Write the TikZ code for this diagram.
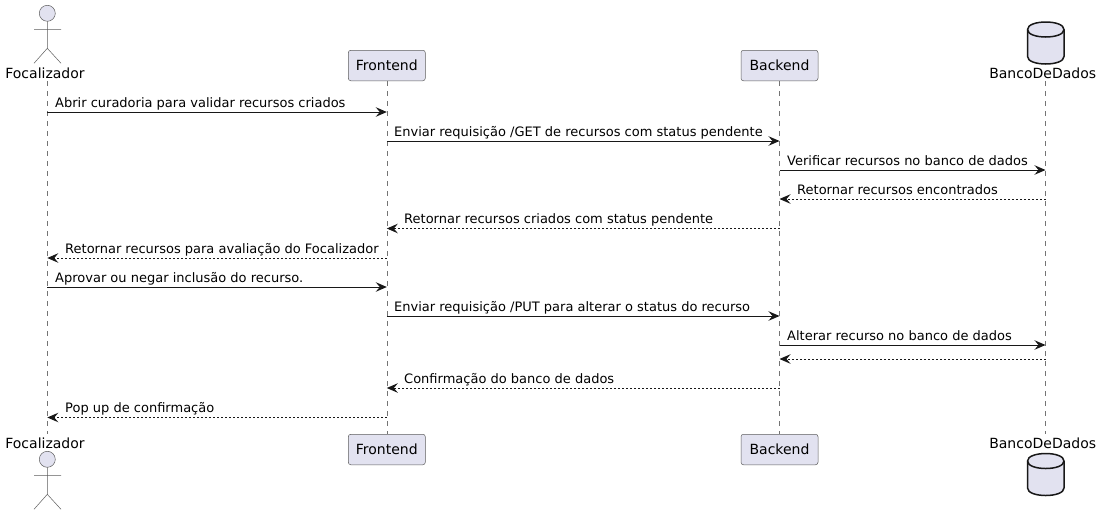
\documentclass[tikz,border=0pt]{standalone}
\usepackage{fontspec}
\setmainfont{DejaVu Sans}
\usetikzlibrary{arrows.meta}
\definecolor{partfill}{HTML}{E2E2F0}
\definecolor{partline}{HTML}{181818}
\newcounter{msgno}
\tikzset{
  x=1pt,y=-1pt,
  lifeline/.style={draw=partline!60,line width=0.5pt,dash pattern=on 5pt off 5pt},
  msgline/.style={draw=partline,line width=1pt,-{Stealth[length=11pt,width=9.5pt,inset=4pt]}},
  retline/.style={msgline,dash pattern=on 2pt off 2pt},
  msgtext/.style={anchor=base west,inner sep=0pt,font=\fontsize{13}{15}\selectfont,text=black},
  parttext/.style={inner sep=0pt,font=\fontsize{14}{16}\selectfont,text=black},
  partbox/.style={draw=partline!70,fill=partfill,line width=0.5pt,rounded corners=2.5pt,minimum width=77pt,minimum height=30.5pt,parttext},
  actorhead/.style={draw=partline!70,fill=partfill,line width=0.5pt},
  actorlimb/.style={draw=partline!70,line width=0.5pt},
  dbbody/.style={draw=partline,fill=partfill,line width=1.5pt},
}
\newcommand{\actorfig}[2]{%
  \node[circle,actorhead,minimum size=16pt,inner sep=0pt] (#1head) at (47.3,#2) {};
  \coordinate (#1neck) at (47.3,#2+8);
  \coordinate (#1hip) at (47.3,#2+35);
  \coordinate (#1arml) at (34,#2+16);
  \coordinate (#1armr) at (61,#2+16);
  \coordinate (#1legl) at (34,#2+50);
  \coordinate (#1legr) at (61,#2+50);
  \draw[actorlimb] (#1neck) -- (#1hip) (#1arml) -- (#1armr) (#1legl) -- (#1hip) -- (#1legr);
}
\newcommand{\dbfig}[1]{%
  \draw[dbbody] (1027.5,#1+10) .. controls (1027.5,#1) and (1064,#1) .. (1064,#1+10)
    -- (1064,#1+37) .. controls (1064,#1+47) and (1027.5,#1+47) .. (1027.5,#1+37) -- cycle;
  \draw[dbbody,fill=none] (1027.5,#1+10) .. controls (1027.5,#1+20) and (1064,#1+20) .. (1064,#1+10);
}
% #1 y, #2 from, #3 to, #4 line style, #5 text x, #6 text
\newcommand{\msgarrow}[6]{%
  \stepcounter{msgno}%
  \coordinate (m\themsgno a) at (#2 |- 0,#1);
  \coordinate (m\themsgno b) at (#3 |- 0,#1);
  \draw[#4] (m\themsgno a) -- (m\themsgno b);
  \node[msgtext] (t\themsgno) at (#5,#1-5) {#6};
}
\begin{document}
\begin{tikzpicture}
\useasboundingbox (0,0) rectangle (1102,515);
\fill[white] (0,0) rectangle (1102,515);

\coordinate (focT) at (47.3,81);  \coordinate (focB) at (47.3,434);
\node[partbox] (froT) at (386.8,65.5) {Frontend};
\node[partbox] (froB) at (386.8,449.5) {Frontend};
\node[partbox] (bacT) at (779.5,65.5) {Backend};
\node[partbox] (bacB) at (779.5,449.5) {Backend};
\coordinate (banT) at (1045.5,81); \coordinate (banB) at (1045.5,434);

\draw[lifeline] (focT) -- (focB);
\draw[lifeline] (froT) -- (froB);
\draw[lifeline] (bacT) -- (bacB);
\draw[lifeline] (banT) -- (banB);

\actorfig{a}{13.3}
\actorfig{b}{459.3}
\node[parttext] (focLabelT) at (45,73) {Focalizador};
\node[parttext] (focLabelB) at (45,443) {Focalizador};
\dbfig{19.5}
\dbfig{451}
\node[parttext] (banLabelT) at (1042.7,73) {BancoDeDados};
\node[parttext] (banLabelB) at (1042.7,443) {BancoDeDados};

\msgarrow{112}{focT}{froT}{msgline}{55}{Abrir curadoria para validar recursos criados}
\msgarrow{141}{froT}{bacT}{msgline}{394}{Enviar requisição /GET de recursos com status pendente}
\msgarrow{170}{bacT}{banT}{msgline}{787}{Verificar recursos no banco de dados}
\msgarrow{199}{banT}{bacT}{retline}{797}{Retornar recursos encontrados}
\msgarrow{228.5}{bacT}{froT}{retline}{404}{Retornar recursos criados com status pendente}
\msgarrow{258}{froT}{focT}{retline}{65}{Retornar recursos para avaliação do Focalizador}
\msgarrow{287}{focT}{froT}{msgline}{55}{Aprovar ou negar inclusão do recurso.}
\msgarrow{316}{froT}{bacT}{msgline}{394}{Enviar requisição /PUT para alterar o status do recurso}
\msgarrow{345}{bacT}{banT}{msgline}{787}{Alterar recurso no banco de dados}
\coordinate (mra) at (banT |- 0,359);
\coordinate (mrb) at (bacT |- 0,359);
\draw[retline] (mra) -- (mrb);
\msgarrow{388}{bacT}{froT}{retline}{404}{Confirmação do banco de dados}
\msgarrow{417.5}{froT}{focT}{retline}{65}{Pop up de confirmação}
\end{tikzpicture}
\end{document}
